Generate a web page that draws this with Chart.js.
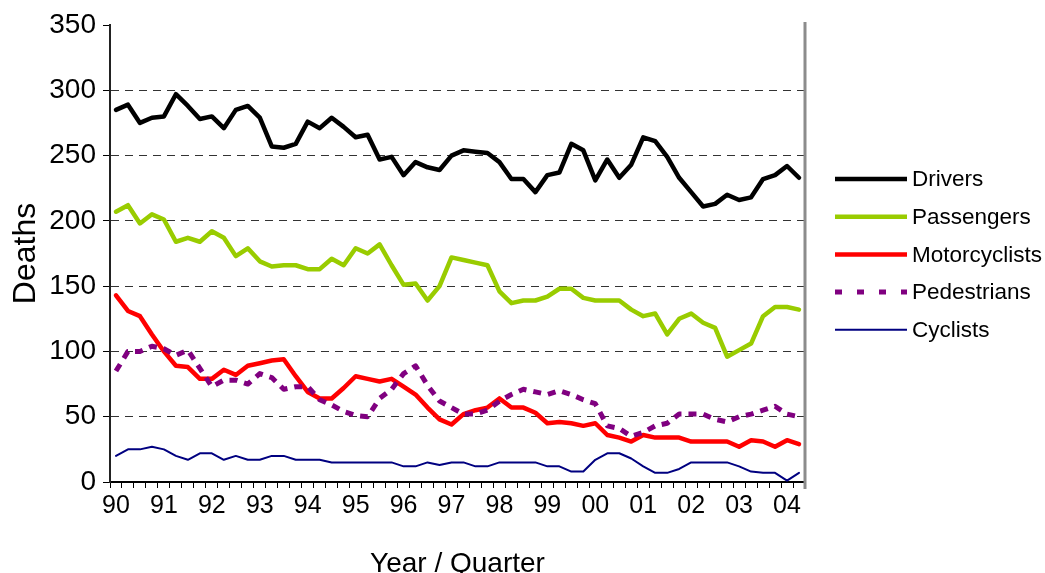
<!DOCTYPE html>
<html>
<head>
<meta charset="utf-8">
<script src="https://cdn.jsdelivr.net/npm/chart.js@4.4.1/dist/chart.umd.min.js"></script>
<style>
    html, body { margin: 0; padding: 0; background: #fff; }
</style>
</head>
<body>
<canvas id="myChart" width="1045" height="573"></canvas>
<script>
// Tick labels (one per year, shown on Q1)
const years = ['90', '91', '92', '93', '94', '95', '96', '97', '98', '99', '00', '01', '02', '03', '04'];

// Categories: 1990 Q1 .. 2004 Q2
const quarters = [];
years.forEach(y => {
    for (let q = 1; q <= 4; q++) quarters.push(y + ' Q' + q);
});
quarters.length = 58;

// Series values (deaths per quarter)
const drivers = [285, 289, 275, 279, 280, 297, 288, 278, 280, 271,
    285, 288, 279, 257, 256, 259, 276, 271, 279, 272,
    264, 266, 247, 249, 235, 245, 241, 239, 250, 254,
    253, 252, 245, 232, 232, 222, 235, 237, 259, 254,
    231, 247, 233, 243, 264, 261, 249, 233, 222, 211,
    213, 220, 216, 218, 232, 235, 242, 233];

const passengers = [207, 212, 198, 205, 201, 184, 187, 184, 192, 187,
    173, 179, 169, 165, 166, 166, 163, 163, 171, 166,
    179, 175, 182, 166, 151, 152, 139, 150, 172, 170,
    168, 166, 146, 137, 139, 139, 142, 148, 148, 141,
    139, 139, 139, 132, 127, 129, 113, 125, 129, 122,
    118, 96, 101, 106, 127, 134, 134, 132];

const motorcyclists = [143, 131, 127, 113, 100, 89, 88, 79, 79, 86,
    82, 89, 91, 93, 94, 81, 69, 64, 64, 72,
    81, 79, 77, 79, 73, 67, 57, 48, 44, 52,
    55, 57, 64, 57, 57, 53, 45, 46, 45, 43,
    45, 36, 34, 31, 36, 34, 34, 34, 31, 31,
    31, 31, 27, 32, 31, 27, 32, 29];

const pedestrians = [85, 100, 100, 104, 102, 97, 101, 87, 73, 78,
    78, 75, 83, 80, 71, 73, 73, 63, 59, 54,
    51, 50, 64, 71, 83, 89, 74, 62, 57, 52,
    52, 55, 62, 67, 71, 69, 67, 70, 67, 63,
    60, 43, 41, 35, 38, 43, 45, 52, 52, 52,
    48, 46, 50, 52, 55, 58, 52, 50];

const cyclists = [20, 25, 25, 27, 25, 20, 17, 22, 22, 17,
    20, 17, 17, 20, 20, 17, 17, 17, 15, 15,
    15, 15, 15, 15, 12, 12, 15, 13, 15, 15,
    12, 12, 15, 15, 15, 15, 12, 12, 8, 8,
    17, 22, 22, 18, 12, 7, 7, 10, 15, 15,
    15, 15, 12, 8, 7, 7, 1, 7];

const FONT = "'Liberation Sans', Arial, sans-serif";

// gray frame line on the right of the plot
const rightBorder = {
    id: 'rightBorder',
    beforeDatasetsDraw(chart) {
        const { ctx, chartArea } = chart;
        ctx.save();
        ctx.strokeStyle = '#8c8c8c';
        ctx.lineWidth = 3;
        ctx.beginPath();
        ctx.moveTo(chartArea.right, chartArea.top - 3);
        ctx.lineTo(chartArea.right, chartArea.bottom + 7);
        ctx.stroke();
        ctx.restore();
    }
};

// legend on the right, drawn by hand
const sideLegend = {
    id: 'sideLegend',
    afterDraw(chart) {
        const { ctx, chartArea } = chart;
        const x0 = chartArea.right + 30;
        chart.data.datasets.forEach((ds, i) => {
            const y = 179 + i * 37.7;
            ctx.save();
            ctx.strokeStyle = ds.borderColor;
            ctx.lineWidth = ds.borderWidth;
            ctx.setLineDash(ds.legendDash || []);
            ctx.beginPath();
            ctx.moveTo(x0, y);
            ctx.lineTo(x0 + 72, y);
            ctx.stroke();
            ctx.fillStyle = '#000';
            ctx.font = '22.5px ' + FONT;
            ctx.textBaseline = 'middle';
            ctx.fillText(ds.label, x0 + 77, y + 1);
            ctx.restore();
        });
    }
};

const ctx = document.getElementById('myChart').getContext('2d');

const myChart = new Chart(ctx, {
    type: 'line',
    data: {
        labels: quarters,
        datasets: [
            { label: 'Drivers', data: drivers, borderColor: '#000000', borderWidth: 4.5, order: 5 },
            { label: 'Passengers', data: passengers, borderColor: '#99cc00', borderWidth: 4.5, order: 4 },
            { label: 'Motorcyclists', data: motorcyclists, borderColor: '#ff0000', borderWidth: 4.5, order: 3 },
            { label: 'Pedestrians', data: pedestrians, borderColor: '#800080', borderWidth: 5,
              borderDash: [8, 7], legendDash: [7, 15], borderCapStyle: 'butt', order: 2 },
            { label: 'Cyclists', data: cyclists, borderColor: '#000080', borderWidth: 2, order: 1 }
        ]
    },
    options: {
        responsive: false,
        animation: false,
        layout: { padding: { top: 25, right: 240, bottom: 0, left: 0 } },
        elements: {
            point: { radius: 0, hoverRadius: 0 },
            line: { tension: 0, borderJoinStyle: 'round', borderCapStyle: 'round', fill: false }
        },
        plugins: {
            legend: { display: false },
            tooltip: { enabled: false }
        },
        scales: {
            x: {
                offset: true,
                grid: { offset: true, drawOnChartArea: false, drawTicks: true, tickLength: 6, color: '#000', lineWidth: 1 },
                border: { color: '#000', width: 2 },
                ticks: {
                    autoSkip: false,
                    maxRotation: 0,
                    padding: 3,
                    color: '#000',
                    font: { family: FONT, size: 25 },
                    callback: (v, i) => (i % 4 === 0 ? years[i / 4] : '')
                },
                title: {
                    display: true,
                    text: 'Year / Quarter',
                    color: '#000',
                    font: { family: FONT, size: 28, lineHeight: 1 },
                    padding: { top: 0, bottom: -5 }
                },
                afterFit: s => { s.height = 91; }
            },
            y: {
                min: 0,
                max: 350,
                ticks: { stepSize: 50, padding: 7, color: '#000', font: { family: FONT, size: 28 } },
                grid: {
                    color: c => (c.tick && (c.tick.value === 350 || c.tick.value === 0) ? 'rgba(0,0,0,0)' : '#333'),
                    tickColor: '#000',
                    tickLength: 7,
                    lineWidth: 1
                },
                border: { color: '#222', width: 2, dash: [8, 6] },
                title: {
                    display: true,
                    text: 'Deaths',
                    color: '#000',
                    font: { family: FONT, size: 32 },
                    padding: { top: 7, bottom: 0 }
                },
                afterFit: s => { s.width = 110; }
            }
        }
    },
    plugins: [rightBorder, sideLegend]
});
</script>
</body>
</html>
